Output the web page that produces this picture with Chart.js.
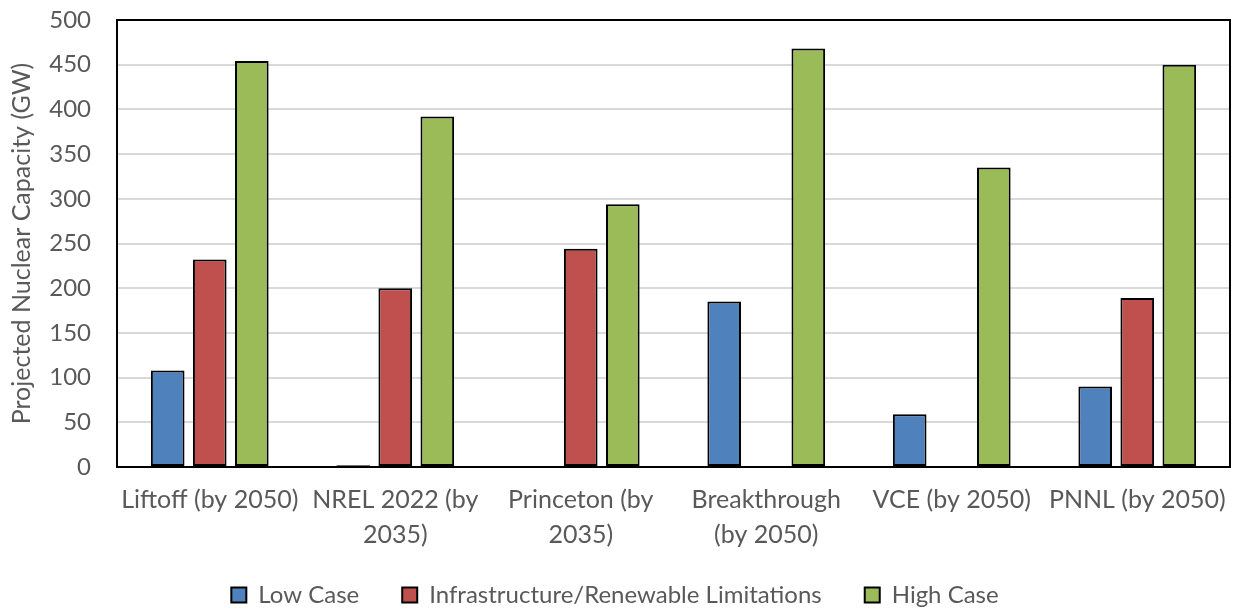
<!DOCTYPE html>
<html>
<head>
<meta charset="utf-8">
<script src="https://cdn.jsdelivr.net/npm/chart.js@4.4.1/dist/chart.umd.min.js"></script>
<style>
  html, body { margin: 0; padding: 0; background: #fff; }
  #wrap { width: 1233px; height: 609px; }
</style>
</head>
<body>
<div id="wrap"><canvas id="chart" width="1233" height="609"></canvas></div>
<script>
const categories = [
  "Liftoff (by 2050)",
  ["NREL 2022 (by", "2035)"],
  ["Princeton (by", "2035)"],
  ["Breakthrough", "(by 2050)"],
  "VCE (by 2050)",
  "PNNL (by 2050)"
];
const lowCase = [108, 2, null, 185, 59, 90];
const infraLimits = [232, 200, 244, null, null, 189];
const highCase = [454, 392, 294, 468, 335, 450];
const yTicks = [0, 50, 100, 150, 200, 250, 300, 350, 400, 450, 500];

const textGray = "#595959";

// box round the plot area
const plotFrame = {
  id: "plotFrame",
  afterDraw(c) {
    const a = c.chartArea;
    const ctx = c.ctx;
    ctx.save();
    ctx.strokeStyle = "#000";
    ctx.lineWidth = 2;
    ctx.strokeRect(a.left, a.top, a.right - a.left, a.bottom - a.top);
    ctx.restore();
  }
};

// legend padding is wide for the spacing between items, so pull it up a bit
const legendShift = {
  id: "legendShift",
  afterLayout(c) {
    const lg = c.legend;
    lg.top = 540;
    lg.bottom = c.height;
    lg.height = lg.bottom - lg.top;
  }
};

const ctx = document.getElementById("chart").getContext("2d");
new Chart(ctx, {
  type: "bar",
  data: {
    labels: categories,
    datasets: [
      { label: "Low Case", data: lowCase, backgroundColor: "#4f81bd" },
      { label: "Infrastructure/Renewable Limitations", data: infraLimits, backgroundColor: "#c0504d" },
      { label: "High Case", data: highCase, backgroundColor: "#9bbb59" }
    ].map(d => Object.assign(d, {
      borderColor: "#000",
      borderWidth: 2,
      borderSkipped: false,
      categoryPercentage: 0.68,
      barPercentage: 0.8
    }))
  },
  options: {
    responsive: false,
    animation: false,
    layout: { padding: { left: 0, right: 3, top: 20, bottom: 0 } },
    plugins: {
      legend: {
        position: "bottom",
        maxHeight: 56,
        labels: {
          font: { family: "Lato", size: 24 },
          color: textGray,
          boxWidth: 15,
          boxHeight: 15,
          padding: 43
        }
      },
      tooltip: { enabled: false }
    },
    scales: {
      x: {
        grid: { display: false, drawTicks: false },
        border: { color: "#000", width: 2 },
        ticks: {
          font: { family: "Lato", size: 25, lineHeight: 1.4 },
          color: textGray,
          maxRotation: 0,
          autoSkip: false,
          padding: 15
        },
        afterFit: s => {
          s.height = 86;
          s.paddingLeft = 0;
          s.paddingRight = 0;
        }
      },
      y: {
        min: 0,
        max: 500,
        afterBuildTicks: s => { s.ticks = yTicks.map(v => ({ value: v })); },
        grid: { color: "#d9d9d9", lineWidth: 2, drawTicks: false },
        border: { color: "#000", width: 2 },
        ticks: {
          font: { family: "Lato", size: 24 },
          color: textGray,
          padding: 26
        },
        title: {
          display: true,
          text: "Projected Nuclear Capacity (GW)",
          font: { family: "Lato", size: 25 },
          color: textGray,
          padding: { top: 7, bottom: 0 }
        },
        afterFit: s => {
          s.width = 117;
          s.paddingTop = 0;
          s.paddingBottom = 0;
        }
      }
    }
  },
  plugins: [plotFrame, legendShift]
});
</script>
</body>
</html>
